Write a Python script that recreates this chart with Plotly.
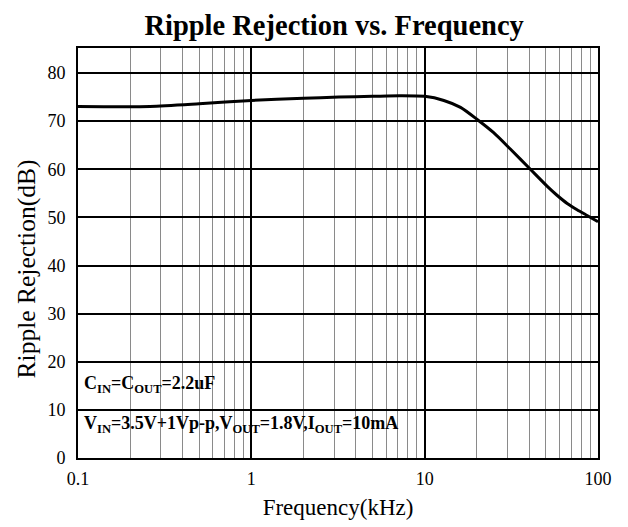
import plotly.graph_objects as go

freq_khz = [0.1, 0.26, 0.5, 1, 2, 3.2, 5, 7.2, 10, 12.9, 16.1, 20, 25, 31.2, 40.7, 50.8, 58, 66.4, 75.7, 86.5, 100]
rejection_db = [73.05, 73.05, 73.6, 74.3, 74.75, 75.0, 75.15, 75.27, 75.15, 74.3, 72.85, 70.4, 67.6, 64.2, 60.0, 56.5, 54.6, 52.9, 51.6, 50.4, 49.1]

x_tickvals = [0.1, 1, 10, 100]
x_ticktext = ["0.1", "1", "10", "100"]
y_tickvals = [0, 10, 20, 30, 40, 50, 60, 70, 80]
minor_vals = [m * d for d in (0.1, 1, 10) for m in range(2, 10)]

title_text = "Ripple Rejection vs. Frequency"
x_title = "Frequency(kHz)"
y_title = "Ripple Rejection(dB)"
note1 = "<b>C<sub>IN</sub>=C<sub>OUT</sub>=2.2uF</b>"
note2 = "<b>V<sub>IN</sub>=3.5V+1Vp-p,V<sub>OUT</sub>=1.8V,I<sub>OUT</sub>=10mA</b>"

FONT = "Liberation Serif"

fig = go.Figure()
fig.add_trace(go.Scatter(
    x=freq_khz, y=rejection_db, mode="lines",
    line=dict(color="black", width=3, shape="spline", smoothing=0.7),
    showlegend=False, hoverinfo="skip",
))

fig.update_layout(
    width=628, height=527,
    margin=dict(l=78, r=30, t=48, b=69),
    paper_bgcolor="white", plot_bgcolor="white",
    font=dict(family=FONT, color="black", size=18),
    title=dict(text="<b>" + title_text + "</b>", x=0.532, xanchor="center",
               y=0.953, yanchor="middle",
               font=dict(family=FONT, size=28.5, color="black")),
    xaxis=dict(
        type="log", range=[-1, 2], automargin=False,
        tickmode="array", tickvals=x_tickvals, ticktext=x_ticktext,
        showgrid=True, gridcolor="black", gridwidth=1.5,
        minor=dict(tickmode="array", tickvals=minor_vals, showgrid=True,
                   gridcolor="#8a8a8a", gridwidth=1, ticks=""),
        showline=True, linecolor="black", linewidth=2, mirror=True,
        ticks="", ticklabelstandoff=3,
        tickfont=dict(family=FONT, size=18),
        title=dict(text=x_title, font=dict(family=FONT, size=23), standoff=11),
        zeroline=False,
    ),
    yaxis=dict(
        range=[0, 85.2], automargin=False,
        tickmode="array", tickvals=y_tickvals,
        showgrid=True, gridcolor="black", gridwidth=1.5,
        showline=True, linecolor="black", linewidth=2, mirror=True,
        ticks="", ticklabelstandoff=7,
        tickfont=dict(family=FONT, size=18),
        zeroline=False,
    ),
)

fig.add_annotation(text=y_title, xref="paper", yref="paper", x=-0.1, y=0.46,
                   xanchor="center", yanchor="middle", textangle=-90,
                   showarrow=False, font=dict(family=FONT, size=25.5, color="black"))
fig.add_annotation(text=note1, xref="paper", yref="y", x=0.008, y=15.3,
                   xanchor="left", yanchor="middle", showarrow=False,
                   font=dict(family=FONT, size=18, color="black"))
fig.add_annotation(text=note2, xref="paper", yref="y", x=0.008, y=6.9,
                   xanchor="left", yanchor="middle", showarrow=False,
                   font=dict(family=FONT, size=18, color="black"))

fig.write_html("out.html", config={"displayModeBar": False},
               post_script="document.body.style.margin='0';")
